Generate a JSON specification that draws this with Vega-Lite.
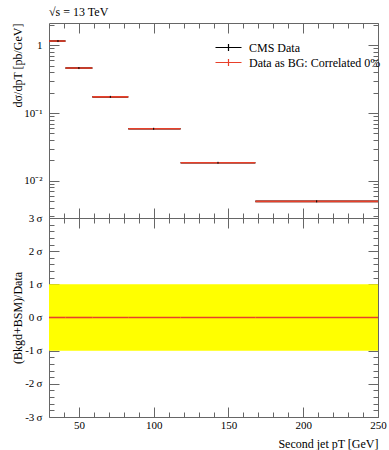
{
  "$schema": "https://vega.github.io/schema/vega-lite/v6.json",
  "background": "white",
  "padding": {"left": 10, "top": 5, "right": 3, "bottom": 3},
  "spacing": 0,
  "bounds": "flush",
  "config": {
    "view": {"stroke": null},
    "font": "Liberation Serif",
    "axis": {
      "domainColor": "#666",
      "tickColor": "#666",
      "grid": false,
      "labelFont": "Liberation Serif",
      "labelFontSize": 11,
      "labelColor": "black",
      "titleFont": "Liberation Serif",
      "titleFontSize": 12,
      "titleFontWeight": "normal",
      "titleColor": "black",
      "domainWidth": 1,
      "tickWidth": 1,
      "labelOverlap": false,
      "labelBound": false,
      "labelFlush": false,
      "zindex": 1
    }
  },
  "datasets": {
    "cms": [
      {"series": "CMS Data", "lo": 30, "hi": 41, "x": 36, "y": 1.15, "ylo": 1.11, "yhi": 1.19},
      {"series": "CMS Data", "lo": 41, "hi": 59, "x": 50, "y": 0.46, "ylo": 0.444, "yhi": 0.476},
      {"series": "CMS Data", "lo": 59, "hi": 83, "x": 71, "y": 0.173, "ylo": 0.167, "yhi": 0.179},
      {"series": "CMS Data", "lo": 83, "hi": 118, "x": 100, "y": 0.0586, "ylo": 0.0566, "yhi": 0.0606},
      {"series": "CMS Data", "lo": 118, "hi": 168, "x": 143, "y": 0.0185, "ylo": 0.0179, "yhi": 0.0191},
      {"series": "CMS Data", "lo": 168, "hi": 250, "x": 209, "y": 0.005, "ylo": 0.00482, "yhi": 0.00518}
    ],
    "bg": [
      {"series": "Data as BG: Correlated 0%", "lo": 30, "hi": 41, "y": 1.15, "pull": 0},
      {"series": "Data as BG: Correlated 0%", "lo": 41, "hi": 59, "y": 0.46, "pull": 0},
      {"series": "Data as BG: Correlated 0%", "lo": 59, "hi": 83, "y": 0.173, "pull": 0},
      {"series": "Data as BG: Correlated 0%", "lo": 83, "hi": 118, "y": 0.0586, "pull": 0},
      {"series": "Data as BG: Correlated 0%", "lo": 118, "hi": 168, "y": 0.0185, "pull": 0},
      {"series": "Data as BG: Correlated 0%", "lo": 168, "hi": 250, "y": 0.005, "pull": 0}
    ],
    "band": [
      {"lo": 30, "hi": 250, "blo": -1, "bhi": 1}
    ]
  },
  "vconcat": [
    {
      "width": 329,
      "height": 195,
      "title": {"text": "√s = 13 TeV", "anchor": "start", "frame": "group", "fontSize": 12, "fontWeight": "normal", "font": "Liberation Serif", "color": "black", "offset": 0},
      "layer": [
        {
          "data": {"name": "cms"},
          "mark": {"type": "rule", "color": "black", "strokeWidth": 1.6},
          "encoding": {
            "x": {"field": "lo", "type": "quantitative",
              "scale": {"domain": [30, 250], "nice": false, "zero": false},
              "axis": {"orient": "bottom", "values": [40,50,60,70,80,90,100,110,120,130,140,150,160,170,180,190,200,210,220,230,240,250], "labels": false, "title": null,
                "tickSize": {"condition": {"test": "datum.value % 50 === 0", "value": -10}, "value": -5}}},
            "x2": {"field": "hi"},
            "y": {"field": "y", "type": "quantitative",
              "scale": {"type": "log", "domain": [0.00284, 2.12], "nice": false},
              "axis": {"orient": "left", "values": [0.003,0.004,0.005,0.006,0.007,0.008,0.009,0.01,0.02,0.03,0.04,0.05,0.06,0.07,0.08,0.09,0.1,0.2,0.3,0.4,0.5,0.6,0.7,0.8,0.9,1,2],
                "labelExpr": "datum.value === 1 ? '1' : (datum.value === 0.1 ? '10⁻¹' : (datum.value === 0.01 ? '10⁻²' : ''))",
                "tickSize": {"condition": {"test": "datum.value === 1 || datum.value === 0.1 || datum.value === 0.01", "value": -10}, "value": -5},
                "labelPadding": 17,
                "title": "dσ/dpT [pb/GeV]", "titleAnchor": "end", "titleX": -25}}
          }
        },
        {
          "data": {"name": "bg"},
          "mark": {"type": "rule", "strokeWidth": 1.6},
          "encoding": {
            "x": {"field": "lo", "type": "quantitative",
              "axis": {"orient": "top", "values": [40,50,60,70,80,90,100,110,120,130,140,150,160,170,180,190,200,210,220,230,240,250], "labels": false, "title": null,
                "tickSize": {"condition": {"test": "datum.value % 50 === 0", "value": -10}, "value": -5}}},
            "x2": {"field": "hi"},
            "y": {"field": "y", "type": "quantitative",
              "axis": {"orient": "right", "values": [0.003,0.004,0.005,0.006,0.007,0.008,0.009,0.01,0.02,0.03,0.04,0.05,0.06,0.07,0.08,0.09,0.1,0.2,0.3,0.4,0.5,0.6,0.7,0.8,0.9,1,2], "labels": false, "title": null,
                "tickSize": {"condition": {"test": "datum.value === 1 || datum.value === 0.1 || datum.value === 0.01", "value": -10}, "value": -5}}},
            "color": {"field": "series", "type": "nominal",
              "scale": {"domain": ["CMS Data", "Data as BG: Correlated 0%"], "range": ["black", "#e8402a"]},
              "legend": {"orient": "none", "legendX": 172, "legendY": 17, "title": null,
                "symbolType": "M-2,0H2M0,-0.55V0.55", "symbolSize": 169, "symbolStrokeWidth": 1.2,
                "labelFont": "Liberation Serif", "labelFontSize": 12, "labelColor": "black", "labelOffset": 13, "rowPadding": 1}}
          }
        },
        {
          "data": {"name": "cms"},
          "mark": {"type": "rule", "color": "black", "strokeWidth": 1},
          "encoding": {
            "x": {"field": "x", "type": "quantitative", "axis": null},
            "y": {"field": "ylo", "type": "quantitative", "axis": null},
            "y2": {"field": "yhi"}
          }
        }
      ],
      "resolve": {"axis": {"x": "independent", "y": "independent"}}
    },
    {
      "width": 329,
      "height": 199,
      "layer": [
        {
          "data": {"name": "band"},
          "mark": {"type": "rect", "color": "#ffff00"},
          "encoding": {
            "x": {"field": "lo", "type": "quantitative",
              "scale": {"domain": [30, 250], "nice": false, "zero": false},
              "axis": {"orient": "bottom", "values": [40,50,60,70,80,90,100,110,120,130,140,150,160,170,180,190,200,210,220,230,240,250],
                "labelExpr": "datum.value % 50 === 0 ? datum.label : ''",
                "tickSize": {"condition": {"test": "datum.value % 50 === 0", "value": -10}, "value": -5},
                "labelPadding": 12,
                "title": "Second jet pT [GeV]", "titleAnchor": "end", "titlePadding": 3}},
            "x2": {"field": "hi"},
            "y": {"field": "blo", "type": "quantitative",
              "scale": {"domain": [-3, 3], "nice": false, "zero": false},
              "axis": {"orient": "left", "values": [-3,-2.8,-2.6,-2.4,-2.2,-2,-1.8,-1.6,-1.4,-1.2,-1,-0.8,-0.6,-0.4,-0.2,0,0.2,0.4,0.6,0.8,1,1.2,1.4,1.6,1.8,2,2.2,2.4,2.6,2.8,3],
                "labelExpr": "datum.value % 1 === 0 ? datum.value + '\u2009σ' : ''",
                "tickSize": {"condition": {"test": "datum.value % 1 === 0", "value": -10}, "value": -5},
                "labelPadding": 17,
                "title": "(Bkgd+BSM)/Data", "titleX": -25}},
            "y2": {"field": "bhi"}
          }
        },
        {
          "data": {"name": "bg"},
          "mark": {"type": "rule", "color": "#e8402a", "strokeWidth": 1.6},
          "encoding": {
            "x": {"field": "lo", "type": "quantitative",
              "axis": {"orient": "top", "values": [40,50,60,70,80,90,100,110,120,130,140,150,160,170,180,190,200,210,220,230,240,250], "labels": false, "title": null,
                "tickSize": {"condition": {"test": "datum.value % 50 === 0", "value": -10}, "value": -5}}},
            "x2": {"field": "hi"},
            "y": {"field": "pull", "type": "quantitative",
              "axis": {"orient": "right", "values": [-3,-2.8,-2.6,-2.4,-2.2,-2,-1.8,-1.6,-1.4,-1.2,-1,-0.8,-0.6,-0.4,-0.2,0,0.2,0.4,0.6,0.8,1,1.2,1.4,1.6,1.8,2,2.2,2.4,2.6,2.8,3], "labels": false, "title": null,
                "tickSize": {"condition": {"test": "datum.value % 1 === 0", "value": -10}, "value": -5}}}
          }
        }
      ],
      "resolve": {"axis": {"x": "independent", "y": "independent"}}
    }
  ]
}
